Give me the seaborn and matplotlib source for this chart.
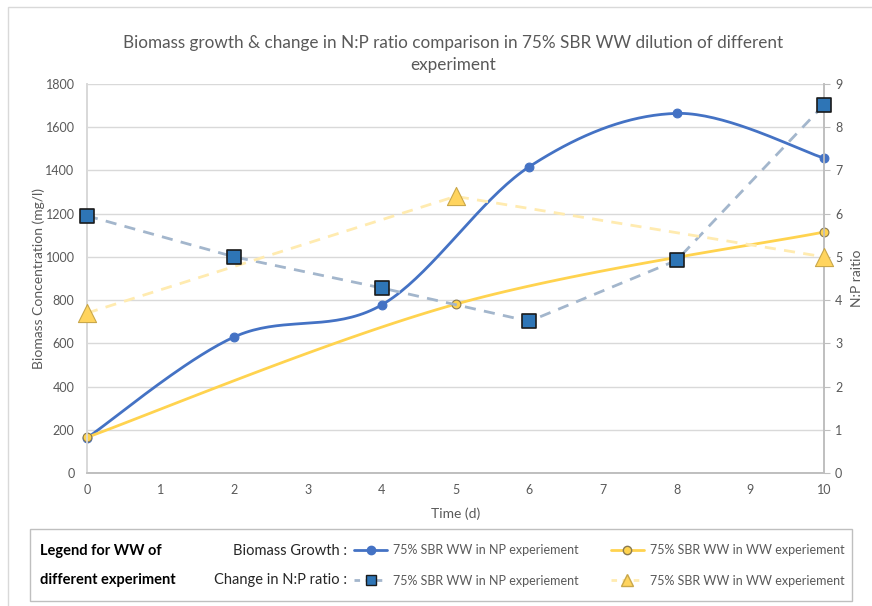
import numpy as np
import pandas as pd
import matplotlib
matplotlib.use("Agg")
import matplotlib.pyplot as plt
from matplotlib.lines import Line2D
from matplotlib.patches import Rectangle
import seaborn as sns

# ---- data ----
time_np = [0, 2, 4, 6, 8, 10]
biomass_np = [162, 630, 778, 1417, 1664, 1457]
np_ratio_np = [5.95, 5.0, 4.28, 3.51, 4.92, 8.52]

time_ww = [0, 5, 10]
biomass_ww = [165, 781, 1115]
np_ratio_ww = [3.70, 6.40, 5.00]

x_ticks = list(range(0, 11))
left_ticks = list(range(0, 1801, 200))
right_ticks = list(range(0, 10))

title = "Biomass growth & change in N:P ratio comparison in 75% SBR WW dilution of different\nexperiment"
series_label_np = "75% SBR WW in NP experiement"
series_label_ww = "75% SBR WW in WW experiement"

# ---- colours ----
BLUE = "#4472C4"
YELLOW = "#FFD34F"
DASH_BLUE = "#A3B6CC"
DASH_YELLOW = "#FFEBB0"
SQ_FILL = "#2E75B6"
TRI_FILL = "#FFD45E"
GRID = "#D9D9D9"
TXT = "#595959"


def catmull_rom(xs, ys, n=40):
    """Excel-like smoothed line through the data points."""
    P = np.column_stack([xs, ys]).astype(float)
    P = np.vstack([P[0], P, P[-1]])
    out = []
    for i in range(1, len(P) - 2):
        p0, p1, p2, p3 = P[i - 1], P[i], P[i + 1], P[i + 2]
        t = np.linspace(0, 1, n)[:, None]
        seg = 0.5 * ((2 * p1) + (-p0 + p2) * t + (2 * p0 - 5 * p1 + 4 * p2 - p3) * t ** 2
                     + (-p0 + 3 * p1 - 3 * p2 + p3) * t ** 3)
        out.append(seg if i == 1 else seg[1:])
    arr = np.vstack(out)
    return arr[:, 0], arr[:, 1]


sns.set_theme(style="white")
plt.rcParams["font.family"] = ["Lato", "DejaVu Sans"]

fig = plt.figure(figsize=(8.72, 6.06), dpi=100)
ax = fig.add_axes([87 / 872, 1 - 473 / 606, (824 - 87) / 872, (473 - 84) / 606])
ax2 = ax.twinx()

# smoothed biomass curves
sx, sy = catmull_rom(time_np, biomass_np)
sns.lineplot(x=sx, y=sy, ax=ax, color=BLUE, linewidth=2, sort=False, estimator=None)
sns.scatterplot(x=time_np, y=biomass_np, ax=ax, color=BLUE, s=40, edgecolor=BLUE, linewidth=0.8, zorder=5)

wx, wy = catmull_rom(time_ww, biomass_ww)
sns.lineplot(x=wx, y=wy, ax=ax, color=YELLOW, linewidth=2, sort=False, estimator=None)
sns.scatterplot(x=time_ww, y=biomass_ww, ax=ax, color=YELLOW, s=40, edgecolor="#8A7A50", linewidth=0.8, zorder=5)

# N:P ratio dashed lines
sns.lineplot(x=time_np, y=np_ratio_np, ax=ax2, color=DASH_BLUE, linewidth=2, estimator=None,
             linestyle=(0, (4, 3)))
sns.scatterplot(x=time_np, y=np_ratio_np, ax=ax2, marker="s", color=SQ_FILL, s=95, edgecolor="#1A1A1A",
                linewidth=1.2, zorder=5)
sns.lineplot(x=time_ww, y=np_ratio_ww, ax=ax2, color=DASH_YELLOW, linewidth=2, estimator=None,
             linestyle=(0, (4, 3)))
sns.scatterplot(x=time_ww, y=np_ratio_ww, ax=ax2, marker="^", color=TRI_FILL, s=170, edgecolor="#C9A74A",
                linewidth=0.8, zorder=5)

for a in (ax, ax2):
    for c in a.collections:
        c.set_clip_on(False)

# axes styling
ax.set_xlim(0, 10)
ax.set_ylim(0, 1800)
ax2.set_ylim(0, 9)
ax.set_xticks(x_ticks)
ax.set_yticks(left_ticks)
ax2.set_yticks(right_ticks)
ax.grid(axis="y", color=GRID, linewidth=1)
ax.set_axisbelow(True)
for a in (ax, ax2):
    a.spines["top"].set_visible(False)
    a.spines["left"].set_color(GRID)
    a.spines["right"].set_color("#BFBFBF")
    a.spines["bottom"].set_color("#BFBFBF")
ax.tick_params(axis="x", colors=TXT, labelsize=9, length=0, pad=8)
ax.tick_params(axis="y", colors=TXT, labelsize=9, length=0, pad=9)
ax2.tick_params(axis="y", colors=TXT, labelsize=9, length=4, width=0.8, color="#BFBFBF", pad=4)
ax.set_xlabel("Time (d)", color=TXT, fontsize=10, labelpad=8)
ax.set_ylabel("Biomass Concentration (mg/l)", color=TXT, fontsize=10)
ax.yaxis.set_label_coords((45 - 87) / (824 - 87), 0.5)
ax2.set_ylabel("N:P raitio", color=TXT, fontsize=10, labelpad=6)

fig.text(453 / 872, 1 - 54 / 606, title, ha="center", va="center", fontsize=12.3, color=TXT, linespacing=1.4)

# outer chart border
fig.patches.append(Rectangle((8 / 872, -0.1), 1.2, 1 - 7 / 606 + 0.1, transform=fig.transFigure,
                             fill=False, edgecolor=GRID, linewidth=1))
# legend box
fig.patches.append(Rectangle((30 / 872, 1 - 601 / 606), (852 - 30) / 872, (601 - 529) / 606,
                             transform=fig.transFigure, fill=False, edgecolor="#BFBFBF", linewidth=1))

fig.text(40 / 872, 1 - 551 / 606, "Legend for WW of", fontsize=10.5, fontweight="bold", color="black", va="center")
fig.text(40 / 872, 1 - 580 / 606, "different experiment", fontsize=10.5, fontweight="bold", color="black", va="center")
fig.text(347 / 872, 1 - 551 / 606, "Biomass Growth :", fontsize=10.5, color="#262626", va="center", ha="right")
fig.text(347 / 872, 1 - 580 / 606, "Change in N:P ratio :", fontsize=10.5, color="#262626", va="center", ha="right")

handles = [
    Line2D([], [], color=BLUE, lw=2, marker="o", markersize=6, markerfacecolor=BLUE, markeredgecolor=BLUE),
    Line2D([], [], color=DASH_BLUE, lw=2, ls=(0, (2, 2)), marker="s", markersize=7,
           markerfacecolor=SQ_FILL, markeredgecolor="#1A1A1A"),
    Line2D([], [], color=YELLOW, lw=2, marker="o", markersize=6, markerfacecolor=YELLOW, markeredgecolor="#8A7A50"),
    Line2D([], [], color=DASH_YELLOW, lw=2, ls=(0, (2, 2)), marker="^", markersize=8,
           markerfacecolor=TRI_FILL, markeredgecolor="#C9A74A"),
]
labels = [series_label_np, series_label_np, series_label_ww, series_label_ww]
fig.legend(handles, labels, ncol=2, frameon=False, loc="center left",
           bbox_to_anchor=(348 / 872, 1 - 565.5 / 606), fontsize=9, labelcolor=TXT,
           handlelength=2.6, handletextpad=0.5, columnspacing=2.6, labelspacing=1.45, borderpad=0)

for a in (ax, ax2):
    if a.get_legend() is not None:
        a.get_legend().remove()

fig.savefig("out.png", dpi=100)
